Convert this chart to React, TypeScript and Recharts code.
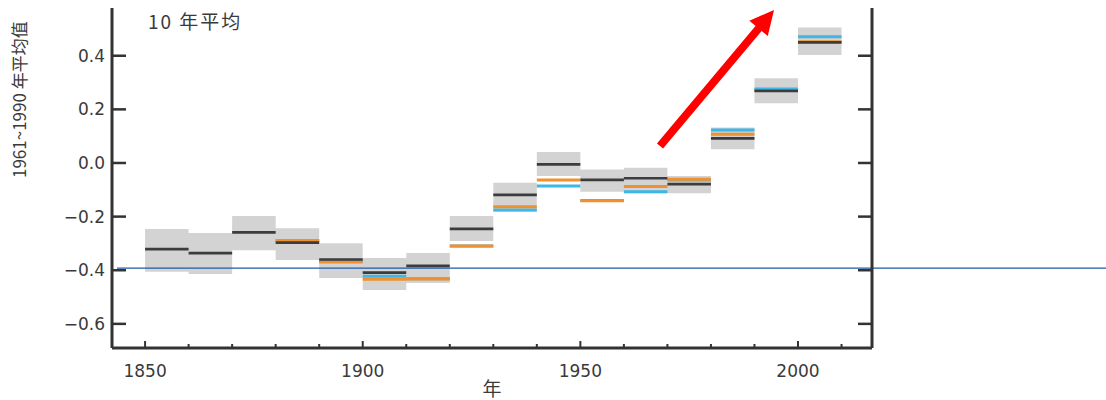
import React from 'react';
import { ComposedChart, Area, Line, XAxis, YAxis, ReferenceLine } from 'recharts';

// decade start years
const decades = [1850, 1860, 1870, 1880, 1890, 1900, 1910, 1920, 1930, 1940, 1950, 1960, 1970, 1980, 1990, 2000];

// uncertainty range (grey boxes)
const boxLow = [-0.406, -0.414, -0.325, -0.362, -0.429, -0.474, -0.448, -0.291, -0.182, -0.049, -0.107, -0.113, -0.113, 0.051, 0.223, 0.403];
const boxHigh = [-0.246, -0.261, -0.198, -0.243, -0.299, -0.354, -0.336, -0.198, -0.074, 0.041, -0.024, -0.018, -0.049, 0.132, 0.316, 0.505];

// decadal means of the three data sets
const blackSeries = [-0.321, -0.336, -0.259, -0.297, -0.36, -0.409, -0.384, -0.246, -0.119, -0.005, -0.063, -0.057, -0.079, 0.092, 0.269, 0.45];
const orangeSeries = [null, null, null, -0.289, -0.369, -0.434, -0.433, -0.31, -0.163, -0.063, -0.141, -0.088, -0.061, 0.107, 0.27, 0.452];
const blueSeries = [null, null, null, -0.29, -0.366, -0.422, -0.432, -0.31, -0.175, -0.086, -0.14, -0.107, -0.063, 0.123, 0.276, 0.471];

const yTicks = [-0.6, -0.4, -0.2, 0.0, 0.2, 0.4];
const xTicks = [1850, 1860, 1870, 1880, 1890, 1900, 1910, 1920, 1930, 1940, 1950, 1960, 1970, 1980, 1990, 2000, 2010];
const xLabels = [1850, 1900, 1950, 2000];
const baselineValue = -0.392;

const AXIS = '#333';
const FONT = '"DejaVu Sans", "Liberation Sans", sans-serif';
const CJK = '"Noto Sans CJK SC", sans-serif';
const TEXT = '#3a3a3a';

// step segments: two points per decade, broken by a null
const stepData = (vals: (number | null)[]) => {
  const out: { year: number; v: number | null }[] = [];
  decades.forEach((d, i) => {
    const v = vals[i];
    if (v == null) return;
    out.push({ year: d, v });
    out.push({ year: d + 10, v });
    out.push({ year: d + 10, v: null });
  });
  return out;
};

const boxData = [
  ...decades.map((d, i) => ({ year: d, range: [boxLow[i], boxHigh[i]] })),
  { year: 2010, range: [boxLow[boxLow.length - 1], boxHigh[boxHigh.length - 1]] },
];

const fmt = (v: number) => (v < 0 ? '\u2212' + Math.abs(v).toFixed(1) : v.toFixed(1));

const LeftTick = (props: any) => {
  const { x, y, payload } = props;
  return (
    <g>
      <line x1={x} y1={y} x2={x + 14} y2={y} stroke={AXIS} strokeWidth={2.5} />
      <text x={x - 7} y={y} dy={6} textAnchor="end" fontFamily={FONT} fontSize={17} fill={TEXT}>
        {fmt(payload.value)}
      </text>
    </g>
  );
};

const RightTick = (props: any) => {
  const { x, y } = props;
  return <line x1={x - 14} y1={y} x2={x} y2={y} stroke={AXIS} strokeWidth={2.5} />;
};

const BottomTick = (props: any) => {
  const { x, y, payload } = props;
  const major = xLabels.includes(payload.value);
  return (
    <g>
      <line x1={x} y1={y} x2={x} y2={y - (major ? 7 : 4)} stroke={AXIS} strokeWidth={2} />
      {major && (
        <text x={x} y={y + 29} textAnchor="middle" fontFamily={FONT} fontSize={17} fill={TEXT}>
          {payload.value}
        </text>
      )}
    </g>
  );
};

const YLabel = () => (
  <text
    x={26}
    y={178}
    transform="rotate(-90 26 178)"
    textAnchor="start"
    fontFamily={CJK}
    fontSize={17}
    fill={TEXT}
  >
    1961~1990 年平均值
  </text>
);

const App = () => {
  return (
    <div style={{ position: 'absolute', left: 0, top: 0, width: 1106, height: 400, background: '#fff' }}>
      <ComposedChart width={1106} height={400} margin={{ top: 8, right: 224, bottom: 2, left: 52 }}>
        <XAxis
          type="number"
          dataKey="year"
          domain={[1842.4, 2017]}
          ticks={xTicks}
          allowDataOverflow
          height={50}
          tickSize={0}
          tickMargin={0}
          tickLine={false}
          tick={<BottomTick />}
          interval={0}
          axisLine={{ stroke: AXIS, strokeWidth: 3 }}
          label={{ value: '年', position: 'insideBottom', offset: 2, fontFamily: CJK, fontSize: 19, fill: TEXT }}
        />
        <YAxis
          yAxisId="left"
          type="number"
          domain={[-0.69, 0.578]}
          ticks={yTicks}
          allowDataOverflow
          width={60}
          tickSize={0}
          tickMargin={0}
          tickLine={false}
          tick={<LeftTick />}
          interval={0}
          axisLine={{ stroke: AXIS, strokeWidth: 3 }}
          label={{ content: () => <YLabel /> }}
        />
        <YAxis
          yAxisId="right"
          orientation="right"
          type="number"
          domain={[-0.69, 0.578]}
          ticks={yTicks}
          allowDataOverflow
          width={10}
          tickSize={0}
          tickMargin={0}
          tickLine={false}
          tick={<RightTick />}
          interval={0}
          axisLine={{ stroke: AXIS, strokeWidth: 3 }}
        />
        <Area
          yAxisId="left"
          data={boxData}
          dataKey="range"
          type="stepAfter"
          fill="#d3d3d3"
          fillOpacity={1}
          stroke="none"
          dot={false}
          activeDot={false}
          isAnimationActive={false}
        />
        <ReferenceLine
          yAxisId="left"
          y={baselineValue}
          shape={(p: any) => (
            <line x1={p.x1 + 5} y1={p.y1} x2={1106} y2={p.y2} stroke="#1f5aa8" strokeWidth={1.3} />
          )}
        />
        <Line
          yAxisId="left"
          data={stepData(blueSeries)}
          dataKey="v"
          stroke="#3db6e8"
          strokeWidth={3}
          dot={false}
          activeDot={false}
          connectNulls={false}
          isAnimationActive={false}
        />
        <Line
          yAxisId="left"
          data={stepData(orangeSeries)}
          dataKey="v"
          stroke="#f0902e"
          strokeWidth={3}
          dot={false}
          activeDot={false}
          connectNulls={false}
          isAnimationActive={false}
        />
        <Line
          yAxisId="left"
          data={stepData(blackSeries)}
          dataKey="v"
          stroke="#3c3c3c"
          strokeWidth={2.7}
          dot={false}
          activeDot={false}
          connectNulls={false}
          isAnimationActive={false}
        />
      </ComposedChart>
      <svg width={1106} height={400} style={{ position: 'absolute', left: 0, top: 0, pointerEvents: 'none' }}>
        <text x={148} y={29} fontFamily={CJK} fontSize={19} fill={TEXT} letterSpacing={2}>
          10 年平均
        </text>
        <line x1={660} y1={146} x2={759} y2={28} stroke="#ff0000" strokeWidth={8} />
        <polygon points="774,10 767.8,36.1 749.4,20.7" fill="#ff0000" />
      </svg>
    </div>
  );
};

export default App;
